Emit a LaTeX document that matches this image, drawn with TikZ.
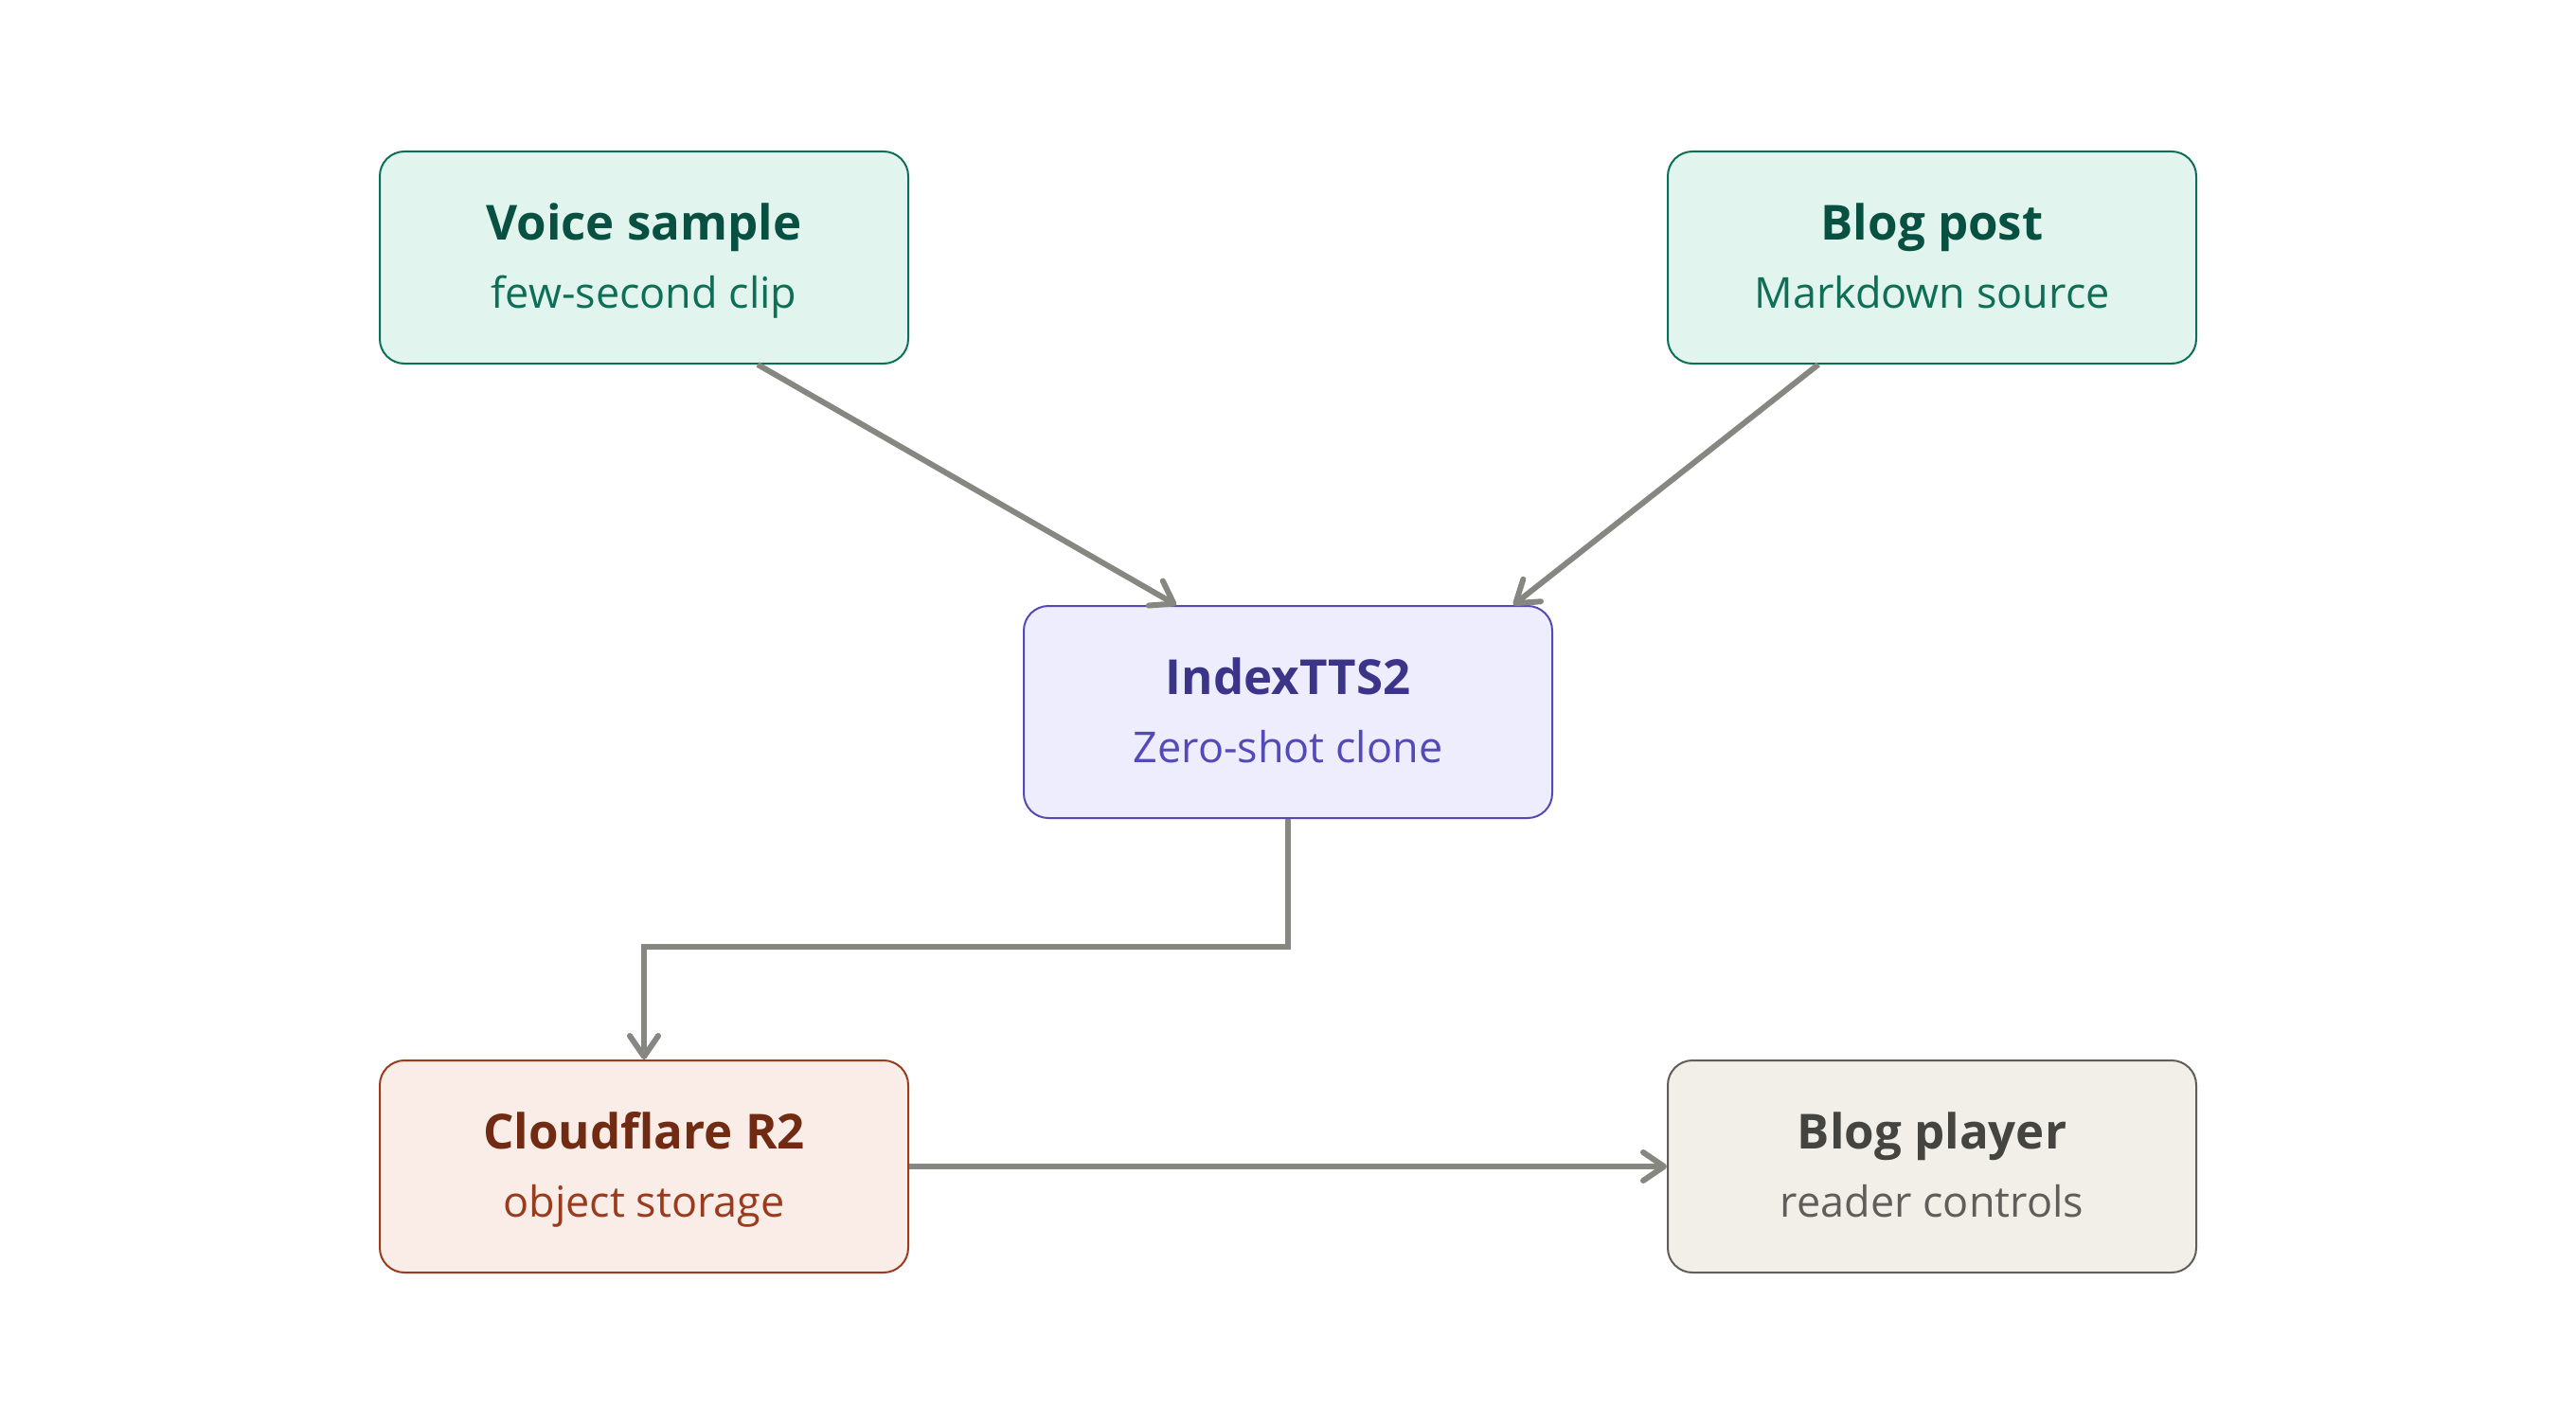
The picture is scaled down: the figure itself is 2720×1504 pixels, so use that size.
\documentclass[tikz,border=0pt]{standalone}
\usepackage{fontspec}
\setmainfont{Open Sans}
\usepackage{xcolor}
\usetikzlibrary{arrows.meta, positioning}
\definecolor{tealfill}{HTML}{E1F5EE}
\definecolor{tealdraw}{HTML}{0F6E56}
\definecolor{tealtitle}{HTML}{085041}
\definecolor{purpfill}{HTML}{EEEDFE}
\definecolor{purpdraw}{HTML}{534AB7}
\definecolor{purptitle}{HTML}{3C3489}
\definecolor{coralfill}{HTML}{FAECE7}
\definecolor{coraldraw}{HTML}{993C1D}
\definecolor{coraltitle}{HTML}{712B13}
\definecolor{grayfill}{HTML}{F1EFE8}
\definecolor{graydraw}{HTML}{5F5E5A}
\definecolor{graytitle}{HTML}{444441}
\definecolor{arcgray}{HTML}{878782}
\newcommand{\boxtitle}[1]{{\fontsize{25.5}{35.5}\selectfont\bfseries\rule{0pt}{23pt}#1}}
\newcommand{\boxsub}[1]{\vphantom{Mp}#1}
\tikzset{
  card/.style={rectangle, rounded corners=13pt, line width=1pt,
               minimum width=279pt, minimum height=112pt, align=center,
               font=\fontsize{22.5}{36}\selectfont},
  teal/.style={card, draw=tealdraw, fill=tealfill, text=tealdraw},
  purp/.style={card, draw=purpdraw, fill=purpfill, text=purpdraw},
  coral/.style={card, draw=coraldraw, fill=coralfill, text=coraldraw},
  grayc/.style={card, draw=graydraw, fill=grayfill, text=graydraw},
  arc/.style={-{Straight Barb[length=11pt, width=15pt, line width=3pt, round]},
              draw=arcgray, line width=3pt}
}
\begin{document}
\begin{tikzpicture}[x=0.5pt, y=-0.5pt]
  \useasboundingbox (0,0) rectangle (2720,1504);
  \node[teal] (voice) at (680,272) {\boxtitle{\color{tealtitle}Voice sample}\\\boxsub{few-second clip}};
  \node[teal] (post) at (2040,272) {\boxtitle{\color{tealtitle}Blog post}\\\boxsub{Markdown source}};
  \node[purp] (tts) at (1360,752) {\boxtitle{\color{purptitle}IndexTTS2}\\\boxsub{Zero-shot clone}};
  \node[coral] (r2) at (680,1232) {\boxtitle{\color{coraltitle}Cloudflare R2}\\\boxsub{object storage}};
  \node[grayc] (player) at (2040,1232) {\boxtitle{\color{graytitle}Blog player}\\\boxsub{reader controls}};
  \draw[arc] ([xshift=60pt]voice.south) -- ([xshift=-59pt]tts.north);
  \draw[arc] ([xshift=-60pt]post.south) -- ([xshift=119pt]tts.north);
  \draw[arc] (tts.south) |- (1020,1000) -| (r2.north);
  \draw[arc] (r2.east) -- (player.west);
\end{tikzpicture}
\end{document}
